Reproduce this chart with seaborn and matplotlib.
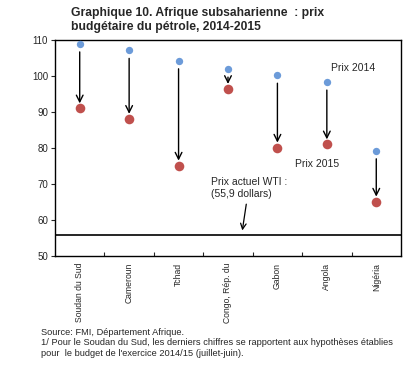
import pandas as pd
import matplotlib.pyplot as plt
import seaborn as sns

# Données
pays = ['Soudan du Sud', 'Cameroun', 'Tchad', 'Congo, Rép. du', 'Gabon', 'Angola', 'Nigéria']
prix_2014 = [108.9, 107.1, 104.2, 101.9, 100.2, 98.3, 79.2]
prix_2015 = [91.0, 88.1, 75.1, 96.4, 80.1, 81.0, 65.1]
prix_wti = 55.9

bleu = '#6C9BD9'
rouge = '#C0504D'

sns.set_style('white')
plt.rcParams['font.family'] = ['Liberation Sans', 'DejaVu Sans']

df = pd.DataFrame({'pays': pays, '2014': prix_2014, '2015': prix_2015})

fig = plt.figure(figsize=(4.16, 3.72), dpi=100)
ax = fig.add_axes([0.1322, 0.3118, 0.8317, 0.5806])

sns.scatterplot(data=df, x='pays', y='2014', color=bleu, s=28, linewidth=0, ax=ax, zorder=3)
sns.scatterplot(data=df, x='pays', y='2015', color=rouge, s=48, linewidth=0, ax=ax, zorder=3)

# Flèches entre les deux prix
for i, (a, b) in enumerate(zip(prix_2014, prix_2015)):
    ax.annotate('', xy=(i, b + 1.4), xytext=(i, a - 2.2),
                arrowprops=dict(arrowstyle='->', color='black', lw=1.0,
                                mutation_scale=12, shrinkA=0, shrinkB=0))

ax.axhline(prix_wti, color='black', lw=1.2, zorder=2)
ax.annotate('', xy=(3.29, prix_wti + 1.2), xytext=(3.37, 64.4),
            arrowprops=dict(arrowstyle='->', color='black', lw=0.9,
                            mutation_scale=10, shrinkA=0, shrinkB=0))

ax.text(5.09, 102.1, 'Prix 2014', fontsize=7.5, va='center', ha='left')
ax.text(4.36, 75.6, 'Prix 2015', fontsize=7.5, va='center', ha='left')
ax.text(2.65, 68.9, 'Prix actuel WTI :\n(55,9 dollars)', fontsize=7.5,
        va='center', ha='left', linespacing=1.25)

ax.set_xlim(-0.5, len(pays) - 0.5)
ax.set_ylim(50, 110)
ax.set_yticks(range(50, 111, 10))
ax.set_xticks(range(len(pays)))
ax.set_xticklabels(pays, rotation=90, fontsize=6.2)
ax.set_xticks([i + 0.5 for i in range(len(pays) - 1)], minor=True)
ax.tick_params(axis='x', which='major', length=0, pad=5)
ax.tick_params(axis='x', which='minor', direction='in', length=3, width=0.8, bottom=True)
ax.tick_params(axis='y', direction='out', length=3, width=0.8, labelsize=7, left=True, pad=2)
ax.set_xlabel('')
ax.set_ylabel('')
for sp in ax.spines.values():
    sp.set_color('black')
    sp.set_linewidth(1.0)

fig.text(0.171, 0.98, 'Graphique 10. Afrique subsaharienne  : prix\nbudgétaire du pétrole, 2014-2015',
         fontsize=8.7, fontweight='bold', va='top', ha='left', linespacing=1.2)

fig.text(0.0985, 0.078,
         'Source: FMI, Département Afrique.\n'
         '1/ Pour le Soudan du Sud, les derniers chiffres se rapportent aux hypothèses établies\n'
         'pour  le budget de l\'exercice 2014/15 (juillet-juin).',
         fontsize=6.7, va='center', ha='left', linespacing=1.25)

fig.savefig('out.png', dpi=100)
